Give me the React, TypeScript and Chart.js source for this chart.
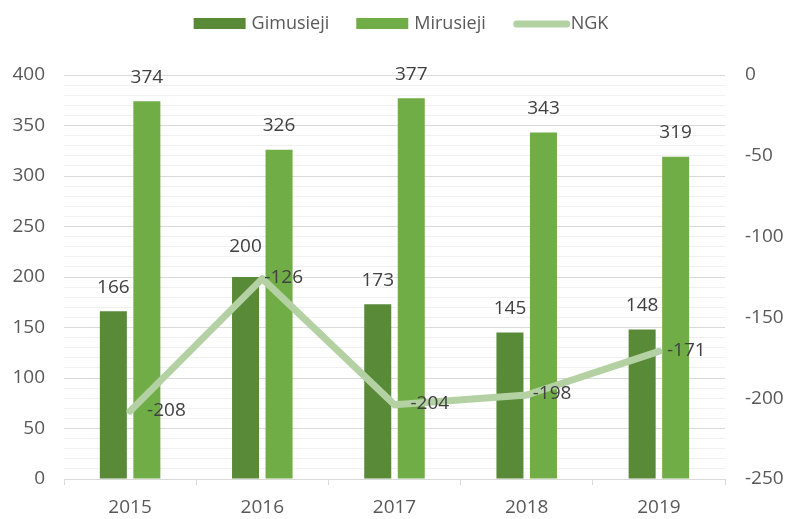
import React, { useEffect, useRef } from 'react';
import { Chart, registerables } from 'chart.js';

Chart.register(...registerables);

const categories = ['2015', '2016', '2017', '2018', '2019'];
const births = [166, 200, 173, 145, 148];
const deaths = [374, 326, 377, 343, 319];
const ngk = [-208, -126, -204, -198, -171];
const seriesNames = ['Gimusieji', 'Mirusieji', 'NGK'];

// label placement tweaks (style only, in pixels)
const lineLabelDx = [17, 2, 16, 6, 8];
const barLabelDy = [[24, 30, 24, 24, 24], [24, 24, 24, 24, 24]];

const DARK = '#588A38';
const LIGHT = '#70AD47';
const LINE = '#B3D1A2';
const TEXT = '#595959';
const LABEL = '#404040';
const FONT = "'Open Sans', sans-serif";
const FSIZE = 19;

const legendPlugin = {
  id: 'customLegend',
  afterDraw(chart: any) {
    const ctx = chart.ctx;
    ctx.save();
    ctx.font = `18px ${FONT}`;
    const boxW = 52;
    const gapText = 6;
    const gapItem = 27;
    const widths = seriesNames.map((n) => boxW + gapText + ctx.measureText(n).width);
    const total = widths.reduce((a, b) => a + b, 0) + gapItem * (seriesNames.length - 1);
    let x = 401 - total / 2;
    const cy = 24;
    const colors = [DARK, LIGHT, LINE];
    seriesNames.forEach((n, i) => {
      if (i < 2) {
        ctx.fillStyle = colors[i];
        ctx.fillRect(x, cy - 6, boxW, 11);
      } else {
        ctx.strokeStyle = colors[i];
        ctx.lineWidth = 7;
        ctx.lineCap = 'round';
        ctx.beginPath();
        ctx.moveTo(x + 4, cy);
        ctx.lineTo(x + boxW + 2, cy);
        ctx.stroke();
      }
      ctx.fillStyle = TEXT;
      ctx.textAlign = 'left';
      ctx.textBaseline = 'middle';
      ctx.fillText(n, x + boxW + gapText, cy);
      x += widths[i] + gapItem;
    });
    ctx.restore();
  },
};

const dataLabelPlugin = {
  id: 'dataLabels',
  afterDatasetsDraw(chart: any) {
    const ctx = chart.ctx;
    ctx.save();
    ctx.font = `${FSIZE}px ${FONT}`;
    ctx.fillStyle = LABEL;
    chart.data.datasets.forEach((ds: any, di: number) => {
      const meta = chart.getDatasetMeta(di);
      meta.data.forEach((el: any, i: number) => {
        const v = ds.data[i];
        if (ds.type === 'line') {
          ctx.textAlign = 'left';
          ctx.textBaseline = 'middle';
          ctx.fillText(String(v), el.x + lineLabelDx[i], el.y - 1);
        } else {
          ctx.textAlign = 'center';
          ctx.textBaseline = 'middle';
          ctx.fillText(String(v), el.x, el.y - barLabelDy[di][i]);
        }
      });
    });
    ctx.restore();
  },
};

export default function App() {
  const ref = useRef<HTMLCanvasElement | null>(null);
  useEffect(() => {
    if (!ref.current) return;
    const chart = new Chart(ref.current, {
      type: 'bar',
      data: {
        labels: categories,
        datasets: [
          {
            type: 'bar',
            label: seriesNames[0],
            data: births,
            backgroundColor: DARK,
            yAxisID: 'y',
            order: 1,
            categoryPercentage: 0.507,
            barPercentage: 0.806,
          },
          {
            type: 'bar',
            label: seriesNames[1],
            data: deaths,
            backgroundColor: LIGHT,
            yAxisID: 'y',
            order: 1,
            categoryPercentage: 0.507,
            barPercentage: 0.806,
          },
          {
            type: 'line',
            label: seriesNames[2],
            data: ngk,
            borderColor: LINE,
            backgroundColor: LINE,
            borderWidth: 7,
            pointRadius: 0,
            borderCapStyle: 'round',
            borderJoinStyle: 'round',
            yAxisID: 'y1',
            order: 0,
          },
        ] as any,
      },
      options: {
        animation: false,
        responsive: true,
        maintainAspectRatio: false,
        layout: { padding: { top: 75, bottom: 0, left: 0, right: 0 } },
        plugins: {
          legend: { display: false },
          tooltip: { enabled: false },
        },
        scales: {
          x: {
            grid: {
              display: true,
              drawOnChartArea: false,
              drawTicks: true,
              tickLength: 6,
              color: '#D9D9D9',
              offset: true,
            },
            border: { display: true, color: '#D9D9D9' },
            ticks: { color: TEXT, font: { family: FONT, size: FSIZE }, padding: 11 },
            afterFit: (s: any) => {
              s.height = 40;
            },
          },
          y: {
            position: 'left',
            min: 0,
            max: 400,
            grid: {
              drawTicks: false,
              tickLength: 0,
              color: (c: any) => (c.tick && c.tick.value % 50 === 0 ? '#D9D9D9' : '#F0F0F0'),
            },
            border: { display: false },
            ticks: {
              stepSize: 10,
              autoSkip: false,
              padding: 19,
              color: TEXT,
              font: { family: FONT, size: FSIZE },
              callback: (v: any) => (Number(v) % 50 === 0 ? String(v) : ''),
            },
            afterFit: (s: any) => {
              s.width = 64;
            },
          },
          y1: {
            position: 'right',
            min: -250,
            max: 0,
            grid: { drawOnChartArea: false, drawTicks: false, tickLength: 0 },
            border: { display: false },
            ticks: {
              stepSize: 10,
              autoSkip: false,
              padding: 20,
              color: TEXT,
              font: { family: FONT, size: FSIZE },
              callback: (v: any) => (Number(v) % 50 === 0 ? String(v) : ''),
            },
            afterFit: (s: any) => {
              s.width = 62;
            },
          },
        },
      } as any,
      plugins: [legendPlugin, dataLabelPlugin],
    });
    return () => chart.destroy();
  }, []);
  return (
    <div style={{ position: 'absolute', left: 0, top: 0, width: 787, height: 519 }}>
      <canvas ref={ref} />
    </div>
  );
}
